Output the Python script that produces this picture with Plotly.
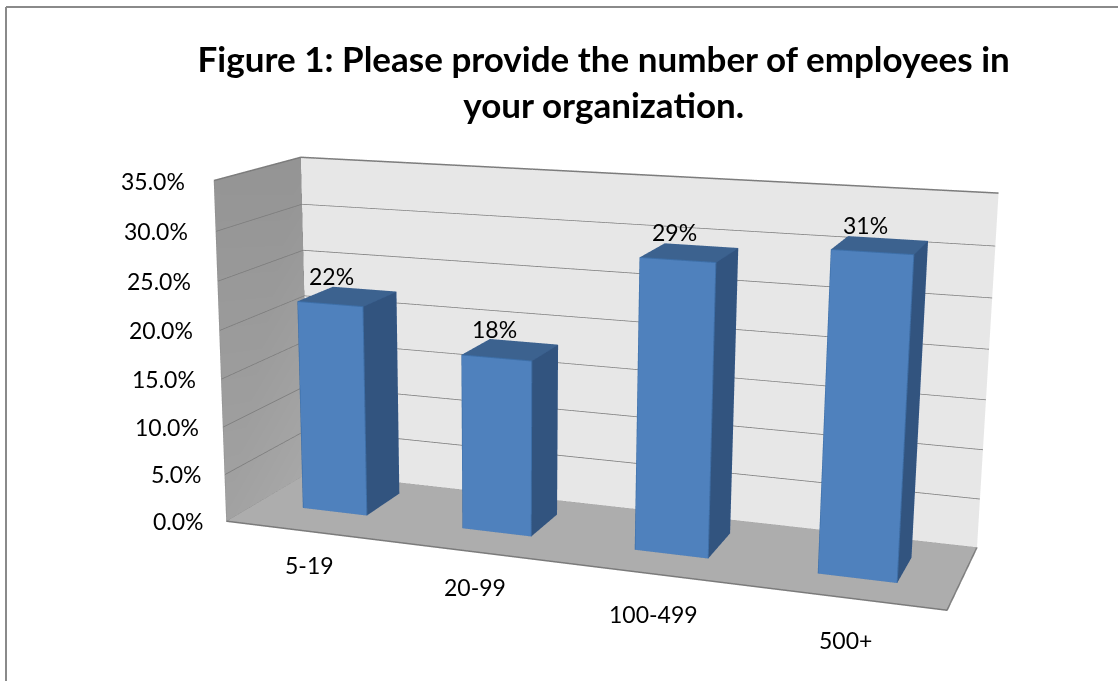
import plotly.graph_objects as go

# ---- data ----
categories = ["5-19", "20-99", "100-499", "500+"]
values = [22, 18, 29, 31]
value_labels = ["22%", "18%", "29%", "31%"]
tick_values = [0, 5, 10, 15, 20, 25, 30, 35]
tick_labels = ["0.0%", "5.0%", "10.0%", "15.0%", "20.0%", "25.0%", "30.0%", "35.0%"]
title_lines = ["Figure 1: Please provide the number of employees in", "your organization."]

# ---- layout of the 3-D box (normalised category / depth position of the bars) ----
bar_left = [0.073, 0.322, 0.573, 0.823]
bar_right = [0.173, 0.423, 0.674, 0.925]
bar_front = [0.363, 0.342, 0.328, 0.300]
bar_back = [0.798, 0.747, 0.763, 0.703]
cat_xshift = [4, 2, 1, 0]
cat_yshift = [-34, -35, -40, -42]
Z_MAX = 35.0

# oblique box: the value axis leans slightly, as in the spreadsheet's 3-D view
SHEAR = dict(xy=0.06629, xz=-0.03316, yx=0.16183, yz=1.43045)


def P(x, y, v):
    t = v / Z_MAX
    return (x + SHEAR["xy"] * y + SHEAR["xz"] * t,
            y + SHEAR["yx"] * x + SHEAR["yz"] * t,
            v)


LIGHT = dict(ambient=1.0, diffuse=0.0, specular=0.0, roughness=1.0, fresnel=0.0)
fig = go.Figure()


def quad(corners, color=None, vcolors=None, name=""):
    pts = [P(*c) for c in corners]
    kw = dict(color=color) if vcolors is None else dict(vertexcolor=vcolors)
    fig.add_trace(go.Mesh3d(
        x=[p[0] for p in pts], y=[p[1] for p in pts], z=[p[2] for p in pts],
        i=[0, 0], j=[1, 2], k=[2, 3], lighting=LIGHT, hoverinfo="skip",
        showscale=False, name=name, **kw))


def line(corners, color, width):
    pts = [P(*c) for c in corners]
    fig.add_trace(go.Scatter3d(
        x=[p[0] for p in pts], y=[p[1] for p in pts], z=[p[2] for p in pts],
        mode="lines", line=dict(color=color, width=width),
        hoverinfo="skip", showlegend=False))


# walls and floor
quad([(0, 0, 0), (1, 0, 0), (1, 1, 0), (0, 1, 0)], color="#ADADAD", name="floor")
quad([(0, 1, 0), (1, 1, 0), (1, 1, Z_MAX), (0, 1, Z_MAX)], color="#E7E7E7", name="back wall")
quad([(0, 0, 0), (0, 1, 0), (0, 1, Z_MAX), (0, 0, Z_MAX)],
     vcolors=["#A2A2A2", "#A8A8A8", "#949494", "#959595"], name="side wall")

# gridlines
GRID = "#7C7C7C"
for v in tick_values:
    w = 3 if v > 0 else 1
    line([(0, 0, v), (0, 1, v), (1, 1, v)], GRID if v > 0 else "#9A9A9A", w)
line([(0, 0, 0), (0, 0, Z_MAX)], "#8C8C8C", 1)
line([(0, 1, 0), (0, 1, Z_MAX)], "#8C8C8C", 1)
line([(0, 1, 0), (0, 0, 0), (1, 0, 0), (1, 1, 0)], "#7A7A7A", 3)

# bars
EDGE = "#3D6FA8"
for x0, x1, y0, y1, v in zip(bar_left, bar_right, bar_front, bar_back, values):
    quad([(x0, y0, 0), (x1, y0, 0), (x1, y0, v), (x0, y0, v)], color="#4F81BD", name="front")
    quad([(x1, y0, 0), (x1, y1, 0), (x1, y1, v), (x1, y0, v)], color="#32547F", name="side")
    quad([(x0, y0, v), (x1, y0, v), (x1, y1, v), (x0, y1, v)], color="#3C628F", name="top")
    line([(x0, y0, 0), (x1, y0, 0), (x1, y0, v), (x0, y0, v), (x0, y0, 0)], EDGE, 2)
    line([(x1, y0, v), (x1, y1, v), (x0, y1, v), (x0, y0, v)], "#3A6090", 1)
    line([(x1, y0, 0), (x1, y1, 0), (x1, y1, v)], "#34588A", 1)

FONT = "Lato"
TEXT = dict(family=FONT, size=23, color="#000000")
annotations = []
for v, lab in zip(tick_values, tick_labels):
    p = P(0, 0, v)
    annotations.append(dict(x=p[0], y=p[1], z=p[2], text=lab, showarrow=False,
                            xanchor="right", yanchor="middle", xshift=-20 - 0.2 * v,
                            font=TEXT))
for cat, x0, x1, dx, dy in zip(categories, bar_left, bar_right, cat_xshift, cat_yshift):
    p = P((x0 + x1) / 2, 0, 0)
    annotations.append(dict(x=p[0], y=p[1], z=p[2], text=cat, showarrow=False,
                            xanchor="center", yanchor="middle", xshift=dx, yshift=dy,
                            font=TEXT))
for lab, x0, x1, y0, y1, v in zip(value_labels, bar_left, bar_right, bar_front, bar_back, values):
    p = P((x0 + x1) / 2 + 0.01, (y0 + y1) / 2, v)
    annotations.append(dict(x=p[0], y=p[1], z=p[2], text=lab, showarrow=False,
                            xanchor="center", yanchor="bottom", xshift=-23, yshift=5,
                            font=TEXT))

hidden = dict(visible=False, showgrid=False, zeroline=False, showticklabels=False,
              showspikes=False, showbackground=False, title="")
fig.update_layout(
    width=1118, height=681, autosize=False, showlegend=False,
    margin=dict(l=0, r=0, t=0, b=0),
    paper_bgcolor="#FFFFFF", plot_bgcolor="#FFFFFF",
    title=dict(text="<br>".join(title_lines), x=0.54, xanchor="center",
               y=0.894, yanchor="bottom",
               font=dict(family=FONT, size=35, color="#000000", weight="bold")),
    scene=dict(
        domain=dict(x=[0, 1], y=[0, 1]),
        bgcolor="rgba(0,0,0,0)",
        xaxis=dict(range=[-0.5, 1.5], **hidden),
        yaxis=dict(range=[-2, 3], **hidden),
        zaxis=dict(range=[0, Z_MAX], **hidden),
        aspectmode="manual",
        aspectratio=dict(x=2, y=5 * 0.13044, z=0.45411),
        camera=dict(eye=dict(x=0.15629, y=-0.88622, z=0.58217),
                    center=dict(x=-0.04038, y=0.12461, z=0.02085),
                    up=dict(x=0.001, y=0.0002, z=1),
                    projection=dict(type="perspective")),
        annotations=annotations,
    ),
    shapes=[
        dict(type="line", xref="paper", yref="paper", x0=6/1118, x1=1, y0=1-7/681, y1=1-7/681,
             line=dict(color="#8A8A8A", width=2)),
        dict(type="line", xref="paper", yref="paper", x0=6/1118, x1=6/1118, y0=0, y1=1-7/681,
             line=dict(color="#8A8A8A", width=2)),
    ],
)
fig.write_html("out.html", config=dict(displayModeBar=False),
               post_script="document.body.style.margin='0';")
